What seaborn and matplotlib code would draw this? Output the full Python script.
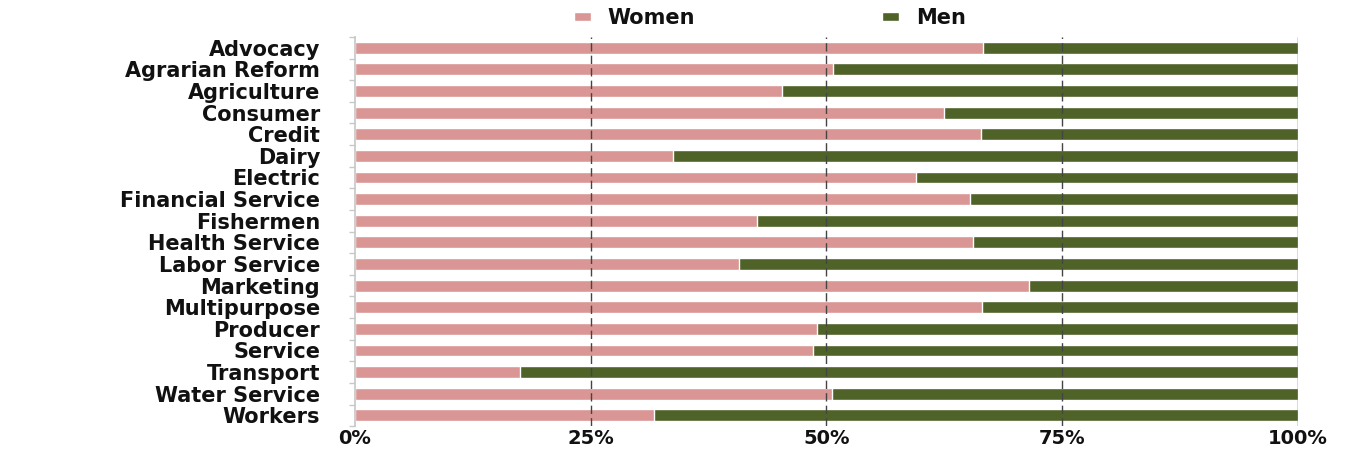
import seaborn as sns
import matplotlib.pyplot as plt
import pandas as pd
from matplotlib.ticker import PercentFormatter

sns.set_theme(style="white")
plt.rcParams['font.family'] = ['DejaVu Sans']

categories = [
    "Advocacy", "Agrarian Reform", "Agriculture", "Consumer", "Credit",
    "Dairy", "Electric", "Financial Service", "Fishermen", "Health Service",
    "Labor Service", "Marketing", "Multipurpose", "Producer", "Service",
    "Transport", "Water Service", "Workers",
]
women = [66.6, 50.7, 45.3, 62.5, 66.4, 33.7, 59.5, 65.2, 42.6, 65.5,
         40.7, 71.5, 66.5, 49.0, 48.6, 17.5, 50.6, 31.7]
men = [33.4, 49.3, 54.7, 37.5, 33.6, 66.3, 40.5, 34.8, 57.4, 34.5,
       59.3, 28.5, 33.5, 51.0, 51.4, 82.5, 49.4, 68.3]
ticks = [0, 25, 50, 75, 100]

df = pd.DataFrame({"sector": categories, "Women": women, "Men": men})
df["total"] = df["Women"] + df["Men"]

women_color = "#d99694"
men_color = "#4f6228"

fig = plt.figure(figsize=(13.46, 4.5), dpi=100)
ax = fig.add_axes([0.2637, 0.053, 0.7006, 0.865])

# stacked: full bar in men colour, women drawn over it
sns.barplot(data=df, y="sector", x="total", color=men_color, ax=ax,
            width=0.55, orient="h", label="Men", saturation=1)
sns.barplot(data=df, y="sector", x="Women", color=women_color, ax=ax,
            width=0.55, orient="h", label="Women", saturation=1)

ax.set_xlim(0, 100)
ax.set_ylim(len(categories) - 0.5, -0.5)
ax.set_xticks(ticks)
ax.xaxis.set_major_formatter(PercentFormatter(decimals=0))
ax.set_xlabel("")
ax.set_ylabel("")

for t in ticks[1:]:
    ax.axvline(t, color="#444444", linestyle=(0, (6, 3)) if t < 100 else "-",
               linewidth=1, zorder=5)

for s in ["top", "right", "bottom"]:
    ax.spines[s].set_visible(False)
ax.spines["left"].set_color("#c8c8c8")

ax.set_yticks([i + 0.5 for i in range(-1, len(categories))], minor=True)
ax.tick_params(axis="y", which="minor", length=4, color="#c8c8c8", left=True)
ax.tick_params(axis="y", which="major", length=0, pad=25)
ax.tick_params(axis="x", length=0, pad=2)

for lbl in ax.get_yticklabels():
    lbl.set_fontsize(15)
    lbl.set_fontweight("heavy")
    lbl.set_color("#111111")
for lbl in ax.get_xticklabels():
    lbl.set_fontsize(14)
    lbl.set_fontweight("heavy")
    lbl.set_color("#111111")

handles, labels = ax.get_legend_handles_labels()
order = [labels.index("Women"), labels.index("Men")]
leg = fig.legend([handles[i] for i in order], [labels[i] for i in order],
                 loc="center", bbox_to_anchor=(0.572, 0.96), ncol=2,
                 frameon=False, handlelength=0.8, handleheight=0.3,
                 handletextpad=0.8, columnspacing=9,
                 prop={"weight": "heavy", "size": 15})
for txt in leg.get_texts():
    txt.set_color("#111111")
if ax.get_legend() is not None:
    ax.get_legend().remove()

fig.savefig("out.png", dpi=100)
